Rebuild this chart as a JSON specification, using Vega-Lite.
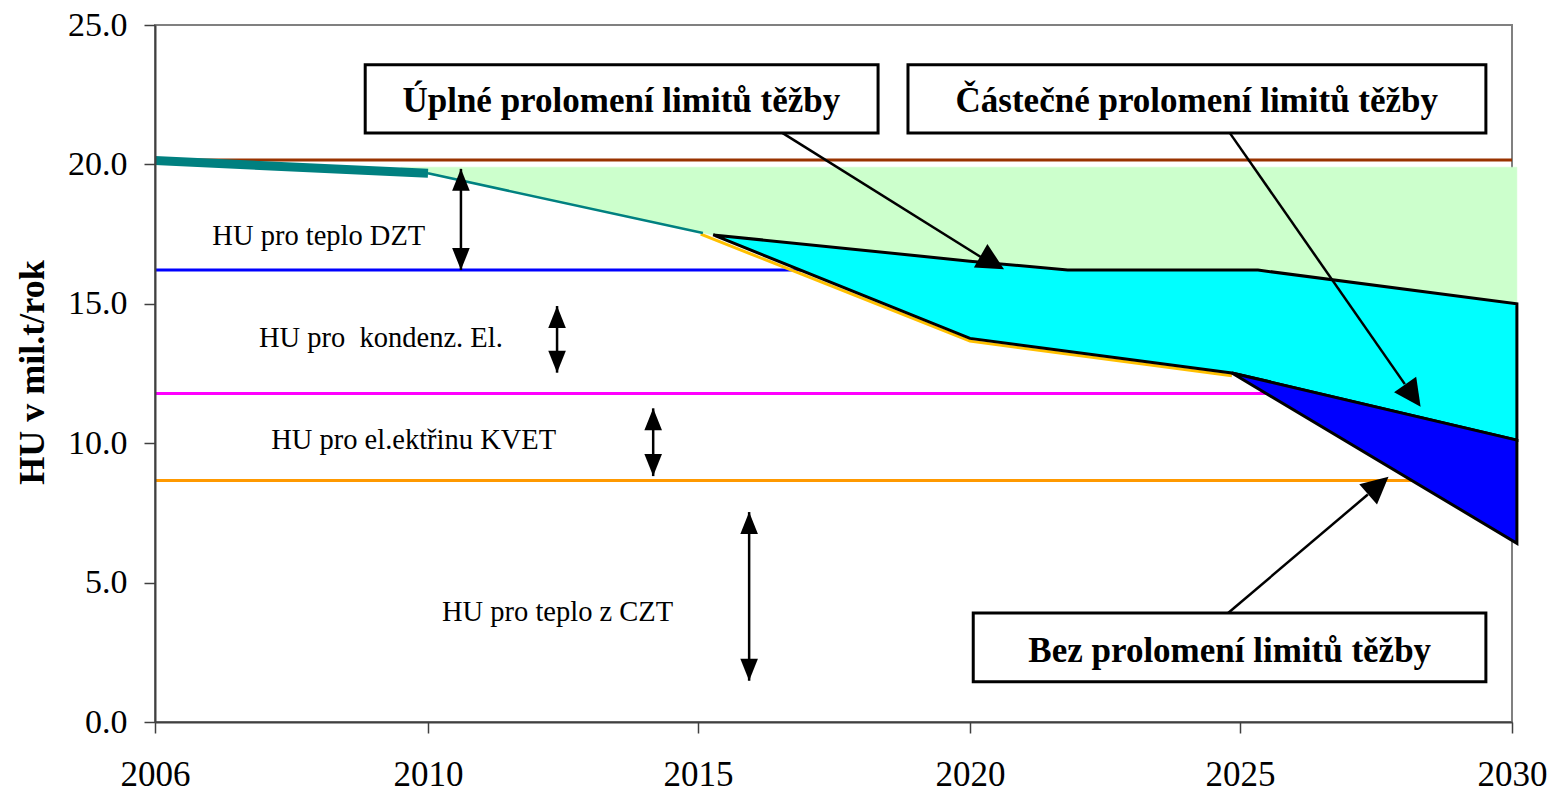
{
  "$schema": "https://vega.github.io/schema/vega-lite/v6.json",
  "width": 1357,
  "height": 697,
  "autosize": {"type": "none"},
  "padding": {"left": 155, "top": 25, "right": 41, "bottom": 72},
  "background": "white",
  "config": {
    "view": {"stroke": "#808080", "strokeWidth": 2},
    "font": "Liberation Serif"
  },
  "datasets": {
    "hlines": [
      {"s": "brown", "year": 2006, "v": 20.16}, {"s": "brown", "year": 2030, "v": 20.16},
      {"s": "blue", "year": 2006, "v": 16.21}, {"s": "blue", "year": 2030, "v": 16.21},
      {"s": "magenta", "year": 2006, "v": 11.78}, {"s": "magenta", "year": 2030, "v": 11.78},
      {"s": "orange", "year": 2006, "v": 8.66}, {"s": "orange", "year": 2030, "v": 8.66}
    ],
    "polys": [
      {"p": "green", "i": 0, "year": 2009.6, "v": 19.9},
      {"p": "green", "i": 1, "year": 2030.09, "v": 19.9},
      {"p": "green", "i": 2, "year": 2030.09, "v": 15.0},
      {"p": "green", "i": 3, "year": 2025.33, "v": 16.21},
      {"p": "green", "i": 4, "year": 2021.81, "v": 16.21},
      {"p": "green", "i": 5, "year": 2020.0, "v": 16.53},
      {"p": "green", "i": 6, "year": 2015.28, "v": 17.47},
      {"p": "green", "i": 7, "year": 2015.09, "v": 17.54},
      {"p": "green", "i": 8, "year": 2010.0, "v": 19.66},
      {"p": "green", "i": 9, "year": 2009.6, "v": 19.76},
      {"p": "cyan", "i": 0, "year": 2015.28, "v": 17.47},
      {"p": "cyan", "i": 1, "year": 2020.0, "v": 16.53},
      {"p": "cyan", "i": 2, "year": 2021.81, "v": 16.21},
      {"p": "cyan", "i": 3, "year": 2025.33, "v": 16.21},
      {"p": "cyan", "i": 4, "year": 2030.09, "v": 15.0},
      {"p": "cyan", "i": 5, "year": 2030.09, "v": 10.11},
      {"p": "cyan", "i": 6, "year": 2024.85, "v": 12.52},
      {"p": "cyan", "i": 7, "year": 2020.0, "v": 13.76},
      {"p": "blue", "i": 0, "year": 2024.85, "v": 12.52},
      {"p": "blue", "i": 1, "year": 2030.09, "v": 10.11},
      {"p": "blue", "i": 2, "year": 2030.09, "v": 6.41}
    ],
    "gold": [
      {"year": 2015.05, "v": 17.5}, {"year": 2020.0, "v": 13.66}, {"year": 2024.85, "v": 12.42}
    ],
    "tealThick": [
      {"year": 2006, "v": 20.14}, {"year": 2010, "v": 19.68}
    ],
    "tealThin": [
      {"year": 2010, "v": 19.68}, {"year": 2015.09, "v": 17.54}
    ],
    "rules": [
      {"year": 2016.55, "v": 21.13, "year2": 2020.2, "v2": 16.68},
      {"year": 2024.81, "v": 21.13, "year2": 2028.03, "v2": 12.12},
      {"year": 2024.78, "v": 3.91, "year2": 2027.35, "v2": 8.16},
      {"year": 2010.61, "v": 19.84, "year2": 2010.61, "v2": 16.21},
      {"year": 2012.39, "v": 14.92, "year2": 2012.39, "v2": 12.53},
      {"year": 2014.17, "v": 11.25, "year2": 2014.17, "v2": 8.82},
      {"year": 2015.94, "v": 7.53, "year2": 2015.94, "v2": 1.48}
    ],
    "heads": [
      {"k": "up", "year": 2010.61, "v": 19.84},
      {"k": "up", "year": 2012.39, "v": 14.92},
      {"k": "up", "year": 2014.17, "v": 11.25},
      {"k": "up", "year": 2015.94, "v": 7.53},
      {"k": "down", "year": 2010.61, "v": 16.21},
      {"k": "down", "year": 2012.39, "v": 12.53},
      {"k": "down", "year": 2014.17, "v": 8.82},
      {"k": "down", "year": 2015.94, "v": 1.48},
      {"k": "uplne", "year": 2020.63, "v": 16.24},
      {"k": "castecne", "year": 2028.32, "v": 11.31},
      {"k": "bez", "year": 2027.73, "v": 8.8}
    ],
    "boxes": [
      {"year": 2009.08, "year2": 2018.31, "v": 23.57, "v2": 21.13},
      {"year": 2018.86, "year2": 2029.52, "v": 23.57, "v2": 21.13},
      {"year": 2020.06, "year2": 2029.52, "v": 3.91, "v2": 1.44}
    ],
    "boxText": [
      {"t": "Úplné prolomení limitů těžby", "year": 2013.58, "v": 21.88},
      {"t": "Částečné prolomení limitů těžby", "year": 2024.2, "v": 21.88},
      {"t": "Bez prolomení limitů těžby", "year": 2024.81, "v": 2.15}
    ],
    "labels": [
      {"t": "HU pro teplo DZT", "year": 2008.4, "v": 17.11},
      {"t": "HU pro\u00a0 kondenz. El.", "year": 2009.31, "v": 13.46},
      {"t": "HU pro el.ektřinu KVET", "year": 2009.79, "v": 9.78},
      {"t": "HU pro teplo z CZT", "year": 2012.4, "v": 3.63}
    ]
  },
  "encoding": {
    "x": {
      "field": "year", "type": "quantitative",
      "scale": {"domain": [2006, 2010, 2015, 2020, 2025, 2030], "range": [0, 273, 543, 815, 1085, 1357], "nice": false, "zero": false},
      "axis": {
        "values": [2006, 2010, 2015, 2020, 2025, 2030], "format": "d", "title": null, "grid": false,
        "labelFont": "Liberation Serif", "labelFontSize": 35, "labelColor": "black",
        "labelBaseline": "alphabetic", "labelPadding": 52, "labelFlush": false, "labelOverlap": false,
        "tickSize": 11, "tickColor": "#404040", "tickWidth": 1.5,
        "domainColor": "#404040", "domainWidth": 2, "zindex": 1
      }
    },
    "y": {
      "field": "v", "type": "quantitative",
      "scale": {"domain": [0, 25], "nice": false, "zero": true},
      "axis": {
        "values": [0, 5, 10, 15, 20, 25], "format": ".1f", "grid": false,
        "title": "HU v mil.t/rok", "titleFont": "Liberation Serif", "titleFontSize": 36, "titleFontWeight": "bold",
        "titleColor": "black", "titleAngle": -90, "titleX": -112, "titleY": 347, "titleAlign": "center", "titleBaseline": "alphabetic",
        "labelFont": "Liberation Serif", "labelFontSize": 34, "labelColor": "black", "labelPadding": 17,
        "tickSize": 11, "tickColor": "#404040", "tickWidth": 1.5,
        "domainColor": "#404040", "domainWidth": 2, "zindex": 1
      }
    }
  },
  "layer": [
    {
      "data": {"name": "hlines"},
      "mark": {"type": "line", "strokeWidth": 3},
      "encoding": {
        "color": {"field": "s", "type": "nominal", "scale": {"domain": ["brown", "blue", "magenta", "orange"], "range": ["#993300", "#0000FF", "#FF00FF", "#FF9900"]}, "legend": null}
      }
    },
    {
      "data": {"name": "polys"},
      "transform": [{"filter": "datum.p === 'green'"}],
      "mark": {"type": "line", "interpolate": "linear-closed", "fill": "#CCFFCC", "stroke": "#CCFFCC", "strokeWidth": 0.5},
      "encoding": {"order": {"field": "i", "type": "quantitative"}}
    },
    {
      "data": {"name": "gold"},
      "mark": {"type": "line", "color": "#FFC000", "strokeWidth": 3},
      "encoding": {}
    },
    {
      "data": {"name": "polys"},
      "transform": [{"filter": "datum.p === 'cyan'"}],
      "mark": {"type": "line", "interpolate": "linear-closed", "fill": "#00FFFF", "stroke": "black", "strokeWidth": 3, "strokeJoin": "miter"},
      "encoding": {"order": {"field": "i", "type": "quantitative"}}
    },
    {
      "data": {"name": "polys"},
      "transform": [{"filter": "datum.p === 'blue'"}],
      "mark": {"type": "line", "interpolate": "linear-closed", "fill": "#0000FF", "stroke": "black", "strokeWidth": 3, "strokeJoin": "miter"},
      "encoding": {"order": {"field": "i", "type": "quantitative"}}
    },
    {
      "data": {"name": "tealThick"},
      "mark": {"type": "line", "color": "#008080", "strokeWidth": 9, "strokeCap": "butt"},
      "encoding": {}
    },
    {
      "data": {"name": "tealThin"},
      "mark": {"type": "line", "color": "#008080", "strokeWidth": 2.5},
      "encoding": {}
    },
    {
      "data": {"name": "rules"},
      "mark": {"type": "rule", "color": "black", "strokeWidth": 2.5},
      "encoding": {"x2": {"field": "year2"}, "y2": {"field": "v2"}}
    },
    {
      "data": {"name": "heads"},
      "transform": [{"filter": "datum.k === 'up'"}],
      "mark": {"type": "point", "shape": "M0,0L-0.8,2L0.8,2Z", "size": 484, "filled": true, "color": "black", "opacity": 1, "angle": 0},
      "encoding": {}
    },
    {
      "data": {"name": "heads"},
      "transform": [{"filter": "datum.k === 'down'"}],
      "mark": {"type": "point", "shape": "M0,0L-0.8,2L0.8,2Z", "size": 484, "filled": true, "color": "black", "opacity": 1, "angle": 180},
      "encoding": {}
    },
    {
      "data": {"name": "heads"},
      "transform": [{"filter": "datum.k === 'uplne'"}],
      "mark": {"type": "point", "shape": "M0,0L-1,2L1,2Z", "size": 729, "filled": true, "color": "black", "opacity": 1, "angle": 120},
      "encoding": {}
    },
    {
      "data": {"name": "heads"},
      "transform": [{"filter": "datum.k === 'castecne'"}],
      "mark": {"type": "point", "shape": "M0,0L-1,2L1,2Z", "size": 729, "filled": true, "color": "black", "opacity": 1, "angle": 145},
      "encoding": {}
    },
    {
      "data": {"name": "heads"},
      "transform": [{"filter": "datum.k === 'bez'"}],
      "mark": {"type": "point", "shape": "M0,0L-1,2L1,2Z", "size": 729, "filled": true, "color": "black", "opacity": 1, "angle": 49},
      "encoding": {}
    },
    {
      "data": {"name": "boxes"},
      "mark": {"type": "rect", "fill": "white", "stroke": "black", "strokeWidth": 3},
      "encoding": {"x2": {"field": "year2"}, "y2": {"field": "v2"}}
    },
    {
      "data": {"name": "boxText"},
      "mark": {"type": "text", "font": "Liberation Serif", "fontSize": 35, "fontWeight": "bold", "color": "black", "align": "center", "baseline": "alphabetic"},
      "encoding": {"text": {"field": "t"}}
    },
    {
      "data": {"name": "labels"},
      "mark": {"type": "text", "font": "Liberation Serif", "fontSize": 28.5, "color": "black", "align": "center", "baseline": "alphabetic"},
      "encoding": {"text": {"field": "t"}}
    }
  ]
}
